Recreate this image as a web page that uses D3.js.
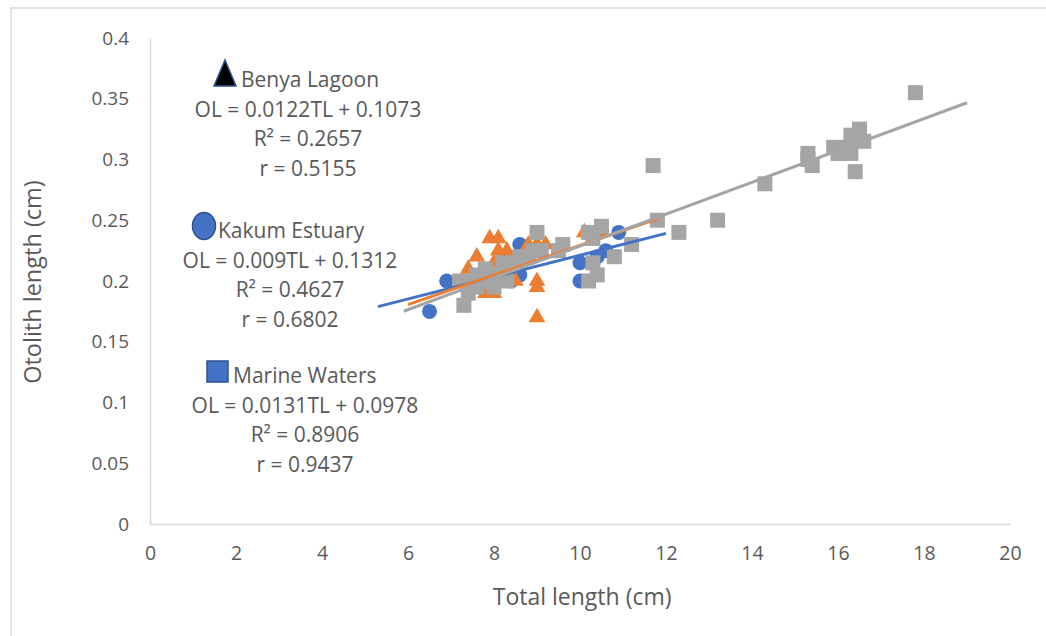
<!DOCTYPE html>
<html>
<head>
<meta charset="utf-8">
<script src="https://cdn.jsdelivr.net/npm/d3@7"></script>
<style>
  html, body { margin: 0; padding: 0; background: #fff; }
  svg { display: block; font-family: "Open Sans", sans-serif; }
</style>
</head>
<body>
<div id="chart"></div>
<script>
'use strict'

// ---- data ----
const xTicks = [0, 2, 4, 6, 8, 10, 12, 14, 16, 18, 20]
const yTicks = [0, 0.05, 0.1, 0.15, 0.2, 0.25, 0.3, 0.35, 0.4]
const yTickLabels = ["0", "0.05", "0.1", "0.15", "0.2", "0.25", "0.3", "0.35", "0.4"]

// Kakum Estuary (blue circles)
const kakumTL = [6.5, 6.9, 7.3, 8.3, 8.4, 8.6, 8.6, 8.7, 10.0, 10.0, 10.4, 10.6, 10.9]
const kakumOL = [0.175, 0.2, 0.2, 0.22, 0.2, 0.23, 0.205, 0.22, 0.215, 0.2, 0.22, 0.225, 0.24]

// Benya Lagoon (orange triangles)
const benyaTL = [7.4, 7.5, 7.6, 7.7, 7.9, 8.1, 8.0, 8.1, 8.3, 7.8, 8.0, 8.5, 8.8, 9.0, 9.2, 9.0, 9.0, 9.0, 10.1, 10.5]
const benyaOL = [0.21, 0.2, 0.22, 0.205, 0.235, 0.235, 0.215, 0.225, 0.225, 0.19, 0.19, 0.2, 0.23, 0.23, 0.23, 0.2, 0.195, 0.17, 0.24, 0.24]

// Marine Waters (grey squares)
const marineTL = [7.3, 7.4, 7.2, 7.5, 7.6, 7.8, 7.9, 8.0, 8.2, 8.3, 8.5, 8.6, 8.8, 8.9, 9.0, 9.1, 9.5, 9.6,
  10.2, 10.3, 10.5, 10.3, 10.2, 10.4, 10.8, 11.2, 11.7, 11.8, 12.3, 13.2, 14.3, 15.3, 15.3, 15.4,
  15.9, 16.0, 16.1, 16.2, 16.3, 16.3, 16.4, 16.5, 16.6, 17.8, 7.6, 7.7, 8.1]
const marineOL = [0.18, 0.19, 0.2, 0.2, 0.205, 0.21, 0.2, 0.195, 0.215, 0.2, 0.215, 0.22, 0.22, 0.225, 0.24, 0.225, 0.225, 0.23,
  0.24, 0.235, 0.245, 0.215, 0.2, 0.205, 0.22, 0.23, 0.295, 0.25, 0.24, 0.25, 0.28, 0.305, 0.3, 0.295,
  0.31, 0.305, 0.305, 0.31, 0.32, 0.305, 0.29, 0.325, 0.315, 0.355, 0.195, 0.2, 0.205]

// trendlines: slope, intercept, and drawn x range
const trendNames = ["Kakum Estuary", "Benya Lagoon", "Marine Waters"]
const trendSlope = [0.009, 0.0122, 0.0131]
const trendIntercept = [0.1312, 0.1073, 0.0978]
const trendFrom = [5.3, 6.0, 5.9]
const trendTo = [12.0, 11.8, 19.0]

// annotation text blocks
const noteTitles = ["Benya Lagoon", "Kakum Estuary", "Marine Waters"]
const noteEquations = ["OL = 0.0122TL + 0.1073", "OL = 0.009TL + 0.1312", "OL = 0.0131TL + 0.0978"]
const noteR2 = ["R² = 0.2657", "R² = 0.4627", "R² = 0.8906"]
const noteR = ["r = 0.5155", "r = 0.6802", "r = 0.9437"]

////////////////////////////////////
//////////// svg setup /////////////
////////////////////////////////////

const svgWidth = 1046
const svgHeight = 636
const margin = { left: 150, right: 36, top: 38, bottom: 112 }
const width = svgWidth - margin.left - margin.right
const height = svgHeight - margin.top - margin.bottom

const svg = d3.select('#chart')
  .append('svg')
  .attr('width', svgWidth)
  .attr('height', svgHeight)

// chart area border
svg.append('rect')
  .attr('x', 11).attr('y', 8)
  .attr('width', svgWidth + 20).attr('height', svgHeight + 20)
  .attr('fill', '#fff')
  .attr('stroke', '#d9d9d9')
  .attr('stroke-width', 1.5)

const g = svg.append('g')
  .attr('transform', `translate(${margin.left},${margin.top})`)

////////////////////////////////////
//////////// Scales ////////////////
////////////////////////////////////

const x = d3.scaleLinear().domain([0, 20]).range([0, width])
const y = d3.scaleLinear().domain([0, 0.4]).range([height, 0])

const textColor = '#595959'
const axisColor = '#d9d9d9'
const colors = { kakum: '#4472C4', benya: '#ED7D31', marine: '#A5A5A5' }

// axes
const xAxis = g.append('g')
  .attr('transform', `translate(0,${height})`)
  .call(d3.axisBottom(x).tickValues(xTicks).tickSize(0).tickPadding(22).tickFormat(d3.format('d')))
xAxis.select('.domain').attr('stroke', axisColor).attr('stroke-width', 1.5)
xAxis.selectAll('text').attr('fill', textColor).style('font-size', '19.5px').style('font-family', '"Open Sans", sans-serif')

const yAxis = g.append('g')
  .call(d3.axisLeft(y).tickValues(yTicks).tickSize(0).tickPadding(21).tickFormat((d, i) => yTickLabels[i]))
yAxis.select('.domain').attr('stroke', axisColor).attr('stroke-width', 1.5)
yAxis.selectAll('text').attr('fill', textColor).style('font-size', '19px').style('font-family', '"Open Sans", sans-serif')

// axis titles
svg.append('text')
  .attr('x', margin.left + x(10.05)).attr('y', 605)
  .attr('text-anchor', 'middle')
  .attr('fill', textColor)
  .style('font-size', '23px')
  .text('Total length (cm)')

svg.append('text')
  .attr('transform', `translate(41,${margin.top + y(0.2) + 1}) rotate(-90)`)
  .attr('text-anchor', 'middle')
  .attr('fill', textColor)
  .style('font-size', '23.5px')
  .text('Otolith length (cm)')

////////////////////////////////////
//////////// marks /////////////////
////////////////////////////////////

const kakum = kakumTL.map((d, i) => ({ tl: d, ol: kakumOL[i] }))
const benya = benyaTL.map((d, i) => ({ tl: d, ol: benyaOL[i] }))
const marine = marineTL.map((d, i) => ({ tl: d, ol: marineOL[i] }))

g.selectAll('.kakum')
  .data(kakum)
  .join('circle')
  .attr('class', 'kakum')
  .attr('cx', d => x(d.tl))
  .attr('cy', d => y(d.ol))
  .attr('r', 7.5)
  .attr('fill', colors.kakum)

const tri = d3.symbol().type(d3.symbolTriangle).size(120)
g.selectAll('.benya')
  .data(benya)
  .join('path')
  .attr('class', 'benya')
  .attr('d', tri)
  .attr('transform', d => `translate(${x(d.tl)},${y(d.ol)})`)
  .attr('fill', colors.benya)

g.selectAll('.marine')
  .data(marine)
  .join('rect')
  .attr('class', 'marine')
  .attr('x', d => x(d.tl) - 7.5)
  .attr('y', d => y(d.ol) - 7.5)
  .attr('width', 15)
  .attr('height', 15)
  .attr('fill', colors.marine)

// trendlines
const trendColors = [colors.kakum, colors.benya, colors.marine]
const trends = trendNames.map((n, i) => ({
  name: n,
  color: trendColors[i],
  pts: [trendFrom[i], trendTo[i]].map(t => ({ tl: t, ol: trendSlope[i] * t + trendIntercept[i] }))
}))
const line = d3.line().x(d => x(d.tl)).y(d => y(d.ol))

g.selectAll('.trend')
  .data(trends)
  .join('path')
  .attr('class', 'trend')
  .attr('d', d => line(d.pts))
  .attr('fill', 'none')
  .attr('stroke', d => d.color)
  .attr('stroke-width', 3)

////////////////////////////////////
//////////// notes /////////////////
////////////////////////////////////

const noteCenter = [308, 290, 305]
const noteTop = [87, 238, 383]
const titleX = [241, 218, 233]
const lineGap = 29.5

noteTitles.forEach((t, i) => {
  svg.append('text')
    .attr('x', titleX[i]).attr('y', noteTop[i])
    .attr('fill', textColor).style('font-size', '21px')
    .text(t)
  ;[noteEquations[i], noteR2[i], noteR[i]].forEach((s, j) => {
    svg.append('text')
      .attr('x', noteCenter[i]).attr('y', noteTop[i] + lineGap * (j + 1))
      .attr('text-anchor', 'middle')
      .attr('fill', textColor).style('font-size', '21px')
      .text(s)
  })
})

// legend icons next to the titles
svg.append('path')
  .attr('d', 'M225,60 L236,86 L214,86 Z')
  .attr('fill', '#000')
  .attr('stroke', '#2F528F')
  .attr('stroke-width', 1.5)

svg.append('ellipse')
  .attr('cx', 204).attr('cy', 226).attr('rx', 11.5).attr('ry', 13.5)
  .attr('fill', colors.kakum)
  .attr('stroke', '#2F528F')
  .attr('stroke-width', 1.5)

svg.append('rect')
  .attr('x', 207).attr('y', 361).attr('width', 21).attr('height', 21)
  .attr('fill', colors.kakum)
  .attr('stroke', '#2F528F')
  .attr('stroke-width', 1.5)
</script>
</body>
</html>
